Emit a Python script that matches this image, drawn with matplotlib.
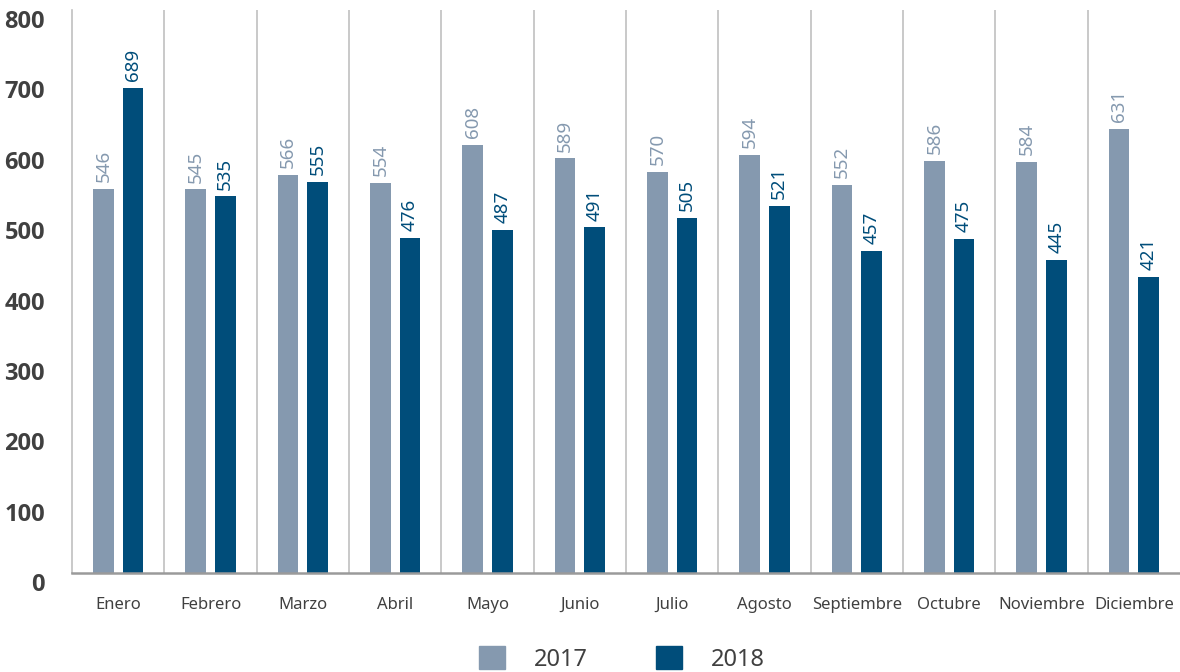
import matplotlib
matplotlib.use("Agg")
import matplotlib.pyplot as plt
from matplotlib.patches import Patch
import numpy as np

plt.rcParams['font.family'] = ['Noto Sans', 'DejaVu Sans']

months = ["Enero", "Febrero", "Marzo", "Abril", "Mayo", "Junio", "Julio",
          "Agosto", "Septiembre", "Octubre", "Noviembre", "Diciembre"]
v2017 = [546, 545, 566, 554, 608, 589, 570, 594, 552, 586, 584, 631]
v2018 = [689, 535, 555, 476, 487, 491, 505, 521, 457, 475, 445, 421]
series_names = ["2017", "2018"]
yticks = [0, 100, 200, 300, 400, 500, 600, 700, 800]

c17 = "#8599AF"
c18 = "#004D7A"
txt = "#404040"

fig = plt.figure(figsize=(11.8, 6.72), dpi=100)
ax = fig.add_axes([72/1180, 99/672, 1108/1180, 563/672])

x = np.arange(len(months))
w = 0.225
off = 0.16
ax.bar(x - off, v2017, w, color=c17)
ax.bar(x + off, v2018, w, color=c18)

for xi, v in zip(x, v2017):
    ax.annotate(str(v), (xi - off, v), xytext=(0, 5), textcoords="offset points",
                rotation=90, ha="center", va="bottom", color=c17, fontsize=13.5)
for xi, v in zip(x, v2018):
    ax.annotate(str(v), (xi + off, v), xytext=(0, 5), textcoords="offset points",
                rotation=90, ha="center", va="bottom", color=c18, fontsize=13.5)

ax.set_xlim(-0.5, len(months) - 0.5)
ax.set_ylim(0, 800)
ax.set_yticks(yticks)
ax.set_yticklabels([])
ax.tick_params(axis="y", length=0)
for t in yticks:
    ax.annotate(str(t), (0, t), xycoords=("axes fraction", "data"),
                xytext=(-27 * 0.72, -12 * 0.72), textcoords="offset points",
                ha="right", va="center", fontsize=17, fontweight="bold",
                family=["Open Sans", "DejaVu Sans"], color=txt, annotation_clip=False)

ax.set_xticks(x)
ax.set_xticklabels(months, fontsize=12, color=txt)
ax.tick_params(axis="x", length=0, pad=17)

for b in np.arange(0.5, len(months) - 0.5, 1.0):
    ax.axvline(b, color="#c0c0c0", lw=1.2, zorder=0)

for s in ["top", "right"]:
    ax.spines[s].set_visible(False)
ax.spines["left"].set_color("#c0c0c0")
ax.spines["left"].set_linewidth(1.2)
ax.spines["bottom"].set_color("#9a9a9a")
ax.spines["bottom"].set_linewidth(1.8)

handles = [Patch(color=c17), Patch(color=c18)]
fig.legend(handles, series_names, loc="center", bbox_to_anchor=(0.527, 13/672),
           ncol=2, frameon=False, fontsize=17, handlelength=1.1, handleheight=1.1,
           columnspacing=2.9, handletextpad=1.2, labelcolor=txt)

fig.savefig("out.png", dpi=100)
